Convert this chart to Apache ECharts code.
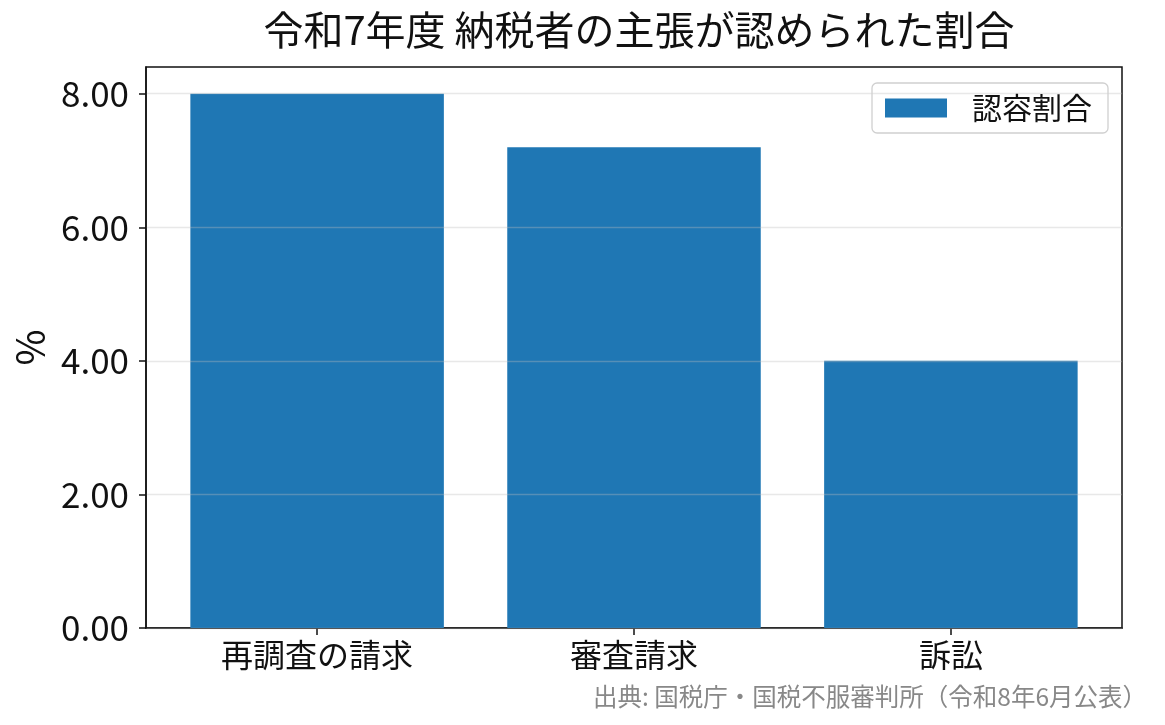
<!DOCTYPE html>
<html>
<head>
    <meta charset="utf-8">
    <title>認容割合</title>
    <script type="text/javascript" src="https://cdn.jsdelivr.net/npm/echarts@6/dist/echarts.min.js"></script>
    <style>
        html, body { margin: 0; padding: 0; background: #fff; }
    </style>
</head>
<body>
    <div id="main" style="width:1165px;height:725px;"></div>
    <script type="text/javascript">
    // data
    var categories = ['再調査の請求', '審査請求', '訴訟'];
    var rates = [8.0, 7.2, 4.0];
    var yTicks = [0, 2, 4, 6, 8];
    var seriesName = '認容割合';
    var titleText = '令和7年度 納税者の主張が認められた割合';
    var sourceText = '出典: 国税庁・国税不服審判所（令和8年6月公表）';

    var font = '"Noto Sans CJK JP", "Noto Sans", sans-serif';
    var myChart = echarts.init(document.getElementById('main'));

    var barData = [];
    for (var i = 0; i < rates.length; i++) {
        barData.push([i, rates[i]]);
    }
    var idx = [];
    for (var j = 0; j < categories.length; j++) idx.push(j);

    var option = {
        backgroundColor: '#fff',
        animation: false,
        textStyle: { fontFamily: font },
        title: [{
            text: titleText,
            left: 634,
            textAlign: 'center',
            top: 5,
            textStyle: { fontSize: 40, fontWeight: 'normal', color: '#111', fontFamily: font }
        }, {
            text: sourceText,
            right: 13,
            bottom: 11,
            textStyle: { fontSize: 24.5, fontWeight: 'normal', color: '#888', fontFamily: font }
        }],
        legend: {
            data: [seriesName],
            right: 57,
            top: 83,
            itemWidth: 62,
            itemHeight: 19,
            padding: [10, 16, 10, 13],
            borderColor: '#d0d0d0',
            borderWidth: 1.3,
            borderRadius: 5,
            textStyle: { fontSize: 30, color: '#111', padding: [0, 0, 0, 20], fontFamily: font },
            icon: 'rect'
        },
        grid: {
            left: 146,
            right: 43,
            top: 67,
            bottom: 97,
            show: true,
            borderColor: '#111',
            borderWidth: 1.5,
            containLabel: false,
            outerBoundsMode: 'none'
        },
        xAxis: {
            type: 'value',
            min: -0.54,
            max: 2.54,
            splitLine: { show: false },
            axisLine: { show: true, onZero: false, lineStyle: { color: '#111', width: 1.5 } },
            axisTick: { show: true, customValues: idx, length: 7, lineStyle: { color: '#111', width: 1.5 } },
            axisLabel: {
                customValues: idx,
                margin: 11,
                fontSize: 32,
                color: '#111',
                fontFamily: font,
                formatter: function (v) { return categories[Math.round(v)]; }
            }
        },
        yAxis: {
            type: 'value',
            min: 0,
            max: 8.4,
            z: 3,
            name: '%',
            nameLocation: 'middle',
            nameGap: 95,
            nameRotate: 90,
            nameTextStyle: { fontSize: 39, color: '#111', fontFamily: font },
            splitLine: { show: true, lineStyle: { color: 'rgba(190,190,190,0.35)', width: 1.3 } },
            axisLine: { show: true, onZero: false, lineStyle: { color: '#111', width: 1.5 } },
            axisTick: { show: true, customValues: yTicks, length: 7, lineStyle: { color: '#111', width: 1.5 } },
            axisLabel: {
                customValues: yTicks,
                margin: 17,
                fontSize: 35,
                color: '#111',
                fontFamily: font,
                formatter: function (v) { return v.toFixed(2); }
            }
        },
        series: [{
            name: seriesName,
            type: 'bar',
            barWidth: 253.5,
            itemStyle: { color: '#1f77b4' },
            data: barData
        }]
    };
    myChart.setOption(option);
    </script>
</body>
</html>
